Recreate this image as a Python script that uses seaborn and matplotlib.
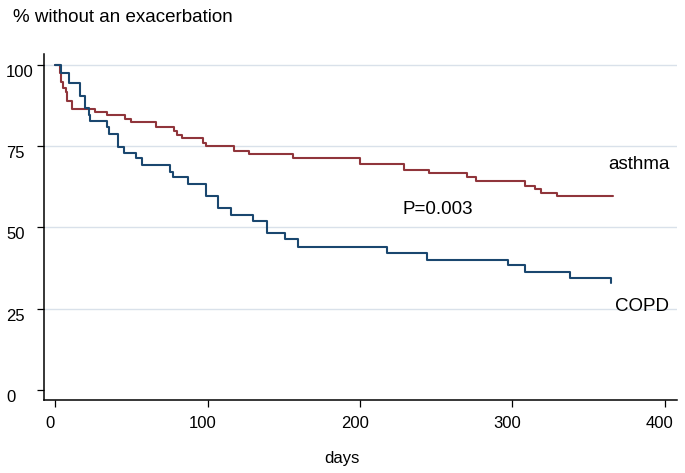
import matplotlib
import matplotlib.pyplot as plt
import matplotlib.transforms as mtransforms
import pandas as pd
import seaborn as sns

matplotlib.use("Agg")

# Kaplan-Meier style step data
DAYS_ASTHMA = [0, 3, 4, 5, 7, 8, 11, 26, 34, 46, 50, 66, 78, 80, 83, 97, 99,
               117, 127, 156, 200, 229, 245, 270, 276, 308, 315, 319, 329, 366]
PCT_ASTHMA = [100, 97.4, 94.9, 92.8, 91.8, 89.0, 86.4, 85.6, 84.6, 83.4, 82.4,
              80.8, 79.8, 78.5, 77.4, 76.0, 75.0, 73.5, 72.5, 71.3, 69.4, 67.8,
              66.9, 65.4, 64.3, 62.9, 61.8, 60.5, 59.7, 59.7]

DAYS_COPD = [0, 4, 9, 16, 19.5, 22, 23, 34, 35, 41, 45, 53, 57, 75, 77, 87, 99,
             107, 115, 130, 139, 151, 159, 218, 244, 297, 308, 338, 365]
PCT_COPD = [100, 97.6, 94.4, 90.5, 86.7, 84.6, 82.8, 81.0, 78.8, 74.9, 72.8,
            71.3, 69.2, 67.2, 65.4, 63.4, 59.7, 55.9, 53.8, 52.0, 48.2, 46.4,
            44.1, 42.3, 40.0, 38.5, 36.4, 34.4, 32.8]

X_TICKS = [0, 100, 200, 300, 400]
Y_TICKS = [0, 25, 50, 75, 100]

COLORS = {"asthma": "#90353B", "COPD": "#1A476F"}
GRID_COLOR = "#D9E1EA"

# text labels inside the plot: (text, day, pct)
LABELS = [("asthma", 383, 69.5), ("P=0.003", 251, 55.4), ("COPD", 385, 25.6)]

# ---------------------------------------------------------------------------
# Build frame
# ---------------------------------------------------------------------------
def build_frame() -> pd.DataFrame:
    a = pd.DataFrame({"days": DAYS_ASTHMA, "pct": PCT_ASTHMA, "group": "asthma"})
    c = pd.DataFrame({"days": DAYS_COPD, "pct": PCT_COPD, "group": "COPD"})
    return pd.concat([a, c], ignore_index=True)

# ---------------------------------------------------------------------------
# Plot
# ---------------------------------------------------------------------------
def main():
    sns.set_style("ticks")
    plt.rcParams["font.family"] = ["Liberation Sans", "DejaVu Sans"]
    plt.rcParams["text.color"] = "black"

    df = build_frame()

    fig = plt.figure(figsize=(6.85, 4.73), dpi=100)
    ax = fig.add_axes([44 / 685, 1 - 400 / 473, 633 / 685, 346 / 473])

    for v in Y_TICKS[1:]:
        ax.axhline(v, color=GRID_COLOR, lw=1.0, zorder=0)

    sns.lineplot(data=df, x="days", y="pct", hue="group", palette=COLORS,
                 estimator=None, sort=False, drawstyle="steps-post",
                 linewidth=1.5, legend=False, ax=ax)

    ax.set_xlim(-7.4, 408)
    ax.set_ylim(-3.1, 103.4)
    ax.set_xlabel("")
    ax.set_ylabel("")

    ax.set_xticks(X_TICKS)
    ax.set_xticklabels([str(t) for t in X_TICKS])
    ax.set_yticks(Y_TICKS)
    ax.set_yticklabels([str(t) for t in Y_TICKS], ha="left", va="top")

    ax.tick_params(axis="both", length=5, width=0.9, color="black",
                   labelsize=12, labelcolor="black")
    ax.tick_params(axis="x", pad=6.5)
    ax.tick_params(axis="y", pad=22.3)

    shift = mtransforms.ScaledTranslation(-5 / 100, 0, fig.dpi_scale_trans)
    for lab in ax.get_xticklabels():
        lab.set_transform(lab.get_transform() + shift)

    sns.despine(ax=ax)
    for side in ["left", "bottom"]:
        ax.spines[side].set_color("black")
        ax.spines[side].set_linewidth(1.1)

    for text, x, y in LABELS:
        ax.text(x, y, text, ha="center", va="center", fontsize=13.5,
                color="black")

    fig.text(13 / 685, 1 - 18 / 473, "% without an exacerbation",
             ha="left", va="center", fontsize=13.5, color="black")
    fig.text(342 / 685, 1 - 458 / 473, "days", ha="center", va="center",
             fontsize=12, color="black")

    fig.savefig("out.png", dpi=100)
    plt.close(fig)


if __name__ == "__main__":
    main()
